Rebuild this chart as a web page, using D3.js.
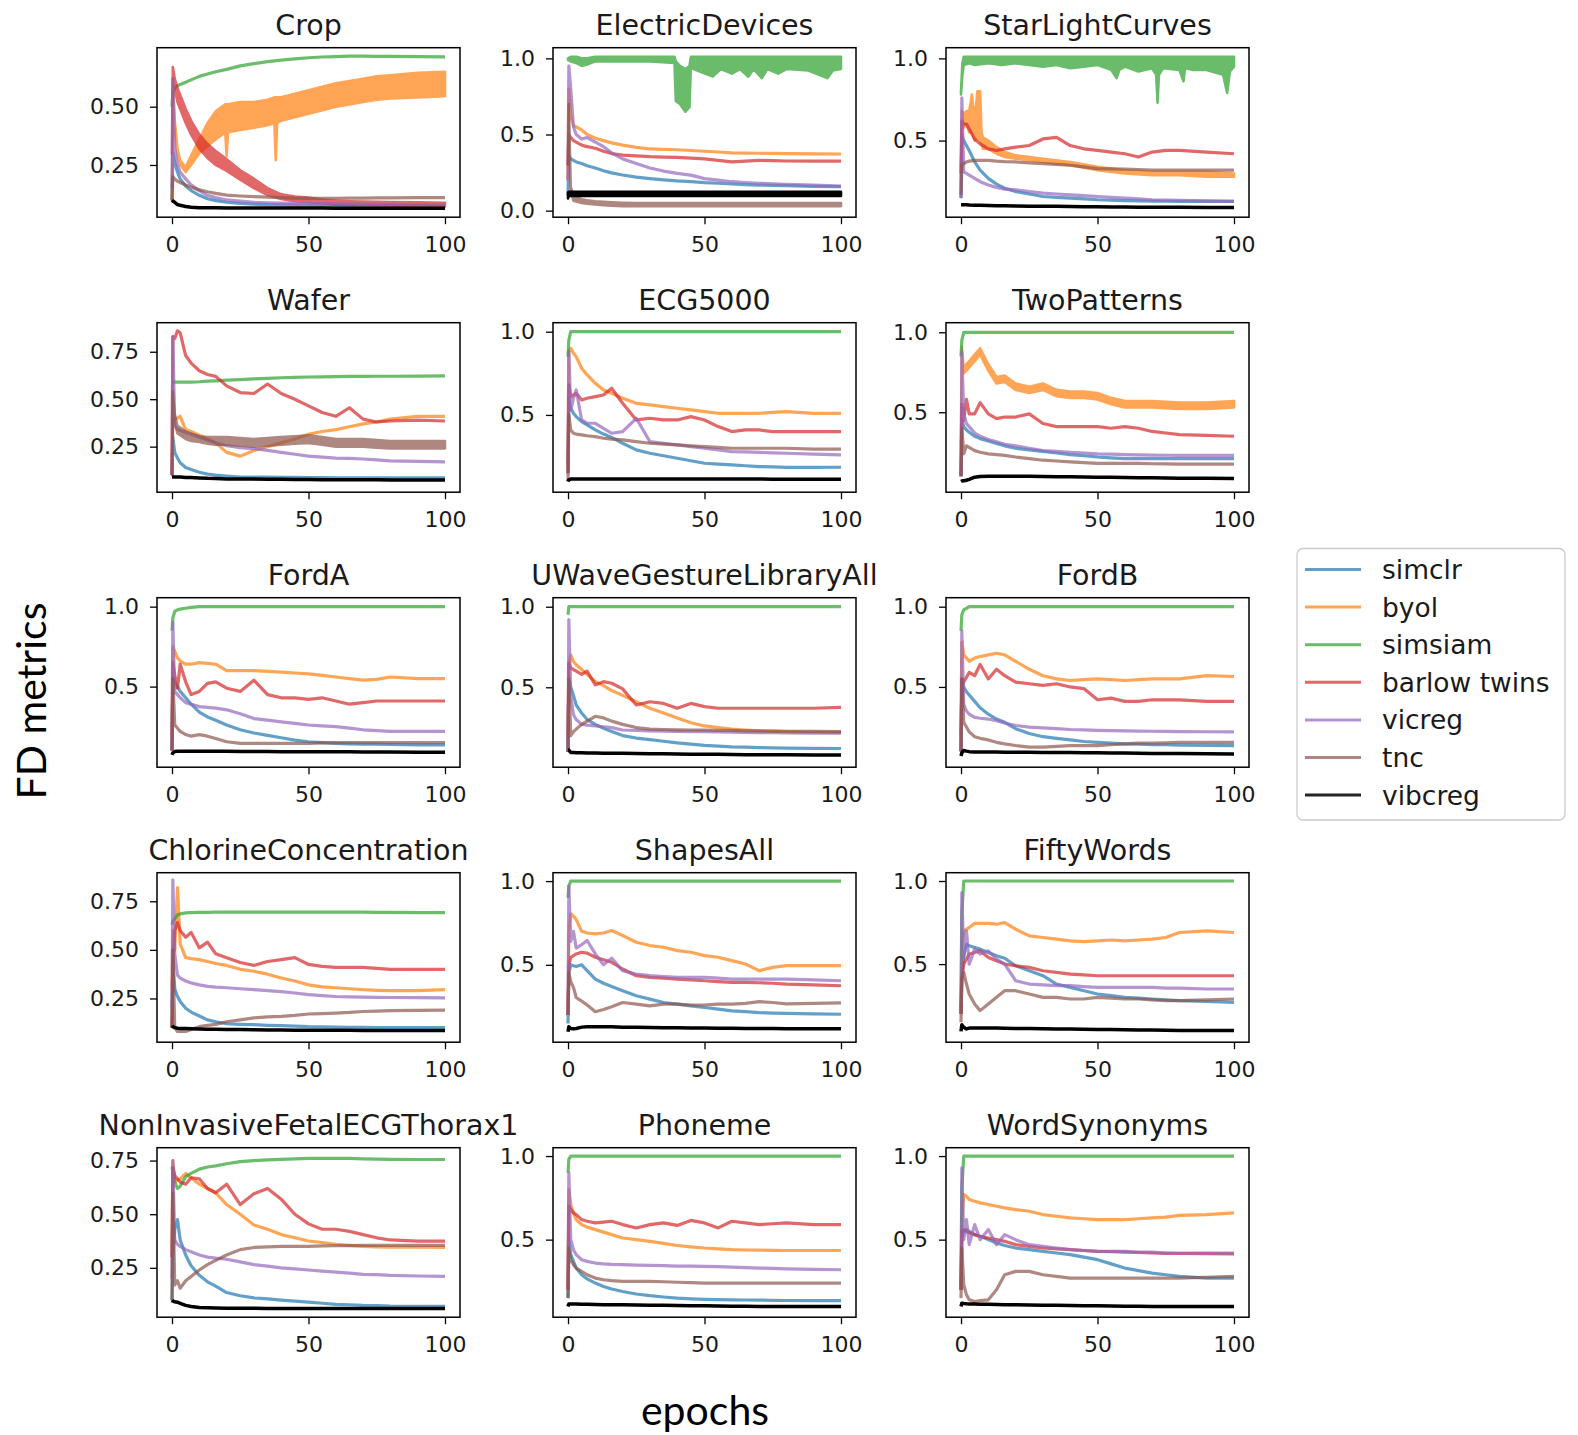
<!DOCTYPE html>
<html><head><meta charset="utf-8">
<script src="https://cdn.jsdelivr.net/npm/d3@7"></script>
<style>body{margin:0;background:#fff}svg{display:block}</style>
</head><body>
<script>
// ---------- data ----------
const methods = ["simclr","byol","simsiam","barlow twins","vicreg","tnc","vibcreg"];
const colors  = ["#1f77b4","#ff7f0e","#2ca02c","#d62728","#9467bd","#8c564b","#000000"];
const epochs  = [0,0.3,1,2,3,5,7,10,13,16,20,25,30,35,40,45,50,55,60,65,70,75,80,90,100];
const xTicks  = [0,50,100];
const datasets = ["Crop","ElectricDevices","StarLightCurves","Wafer","ECG5000","TwoPatterns","FordA",
  "UWaveGestureLibraryAll","FordB","ChlorineConcentration","ShapesAll","FiftyWords",
  "NonInvasiveFetalECGThorax1","Phoneme","WordSynonyms"];
const yDomains = [[0.026,0.753],[-0.043,1.07],[0.034,1.065],[0.01,0.903],[0.036,1.054],[0.0,1.06],
  [-0.004,1.056],[0.004,1.056],[0.0,1.056],[0.025,0.897],[0.038,1.05],[0.03,1.05],[0.02,0.81],[0.036,1.05],[0.036,1.05]];
const yTickSets = [[0.25,0.5],[0,0.5,1.0],[0.5,1.0],[0.25,0.5,0.75],[0.5,1.0],[0.5,1.0],[0.5,1.0],[0.5,1.0],[0.5,1.0],
  [0.25,0.5,0.75],[0.5,1.0],[0.5,1.0],[0.25,0.5,0.75],[0.5,1.0],[0.5,1.0]];
const yTickFormats = [".2f",".1f",".1f",".2f",".1f",".1f",".1f",".1f",".1f",".2f",".1f",".1f",".2f",".1f",".1f"];

// series values on `epochs` (order: simclr, byol, simsiam, barlow twins, vicreg, tnc, vibcreg); null = drawn as band
const cropV = [
 [0.10,0.30,0.26,0.22,0.19,0.16,0.14,0.12,0.105,0.097,0.09,0.085,0.082,0.08,0.079,0.078,0.078,0.077,0.077,0.076,0.076,0.076,0.076,0.075,0.075],
 null,
 [0.50,0.56,0.58,0.59,0.595,0.605,0.615,0.63,0.64,0.65,0.66,0.675,0.685,0.693,0.70,0.705,0.71,0.713,0.715,0.717,0.717,0.716,0.716,0.715,0.714],
 null,
 [0.15,0.62,0.32,0.25,0.22,0.19,0.165,0.14,0.12,0.11,0.10,0.095,0.09,0.088,0.086,0.085,0.085,0.084,0.083,0.083,0.082,0.082,0.081,0.08,0.08],
 [0.10,0.20,0.19,0.18,0.175,0.164,0.155,0.143,0.135,0.128,0.121,0.117,0.114,0.112,0.11,0.108,0.107,0.107,0.107,0.108,0.108,0.109,0.109,0.11,0.11],
 [0.10,0.095,0.09,0.08,0.077,0.072,0.069,0.067,0.066,0.066,0.065,0.065,0.065,0.065,0.065,0.065,0.065,0.065,0.064,0.064,0.064,0.064,0.064,0.064,0.064]];
const cropB = [
 {m:1, epochs:[0,0.3,1,2,3,5,7,10,13,16,19.5,20,20.5,25,30,35,37.5,38,38.5,40,45,50,55,60,65,70,75,80,90,100],
  lo:[0.1,0.58,0.4,0.3,0.25,0.22,0.25,0.30,0.33,0.36,0.39,0.29,0.39,0.40,0.41,0.42,0.43,0.27,0.43,0.44,0.455,0.47,0.485,0.50,0.51,0.52,0.53,0.535,0.54,0.545],
  hi:[0.1,0.62,0.44,0.32,0.27,0.24,0.29,0.36,0.43,0.48,0.51,0.51,0.51,0.52,0.52,0.53,0.54,0.54,0.54,0.54,0.555,0.57,0.585,0.60,0.61,0.62,0.63,0.635,0.645,0.65]},
 {m:3,
  lo:[0.30,0.65,0.58,0.52,0.49,0.43,0.38,0.32,0.28,0.25,0.225,0.187,0.151,0.121,0.104,0.095,0.09,0.086,0.08,0.078,0.077,0.076,0.075,0.074,0.072],
  hi:[0.30,0.67,0.62,0.58,0.55,0.49,0.44,0.38,0.34,0.31,0.275,0.227,0.191,0.151,0.124,0.115,0.11,0.102,0.096,0.094,0.093,0.092,0.091,0.09,0.088]}];

const electricV = [
 [0.10,0.36,0.34,0.33,0.32,0.31,0.295,0.28,0.262,0.248,0.234,0.22,0.21,0.202,0.195,0.19,0.184,0.18,0.175,0.171,0.168,0.166,0.164,0.16,0.158],
 [0.20,0.80,0.62,0.56,0.55,0.53,0.50,0.475,0.46,0.445,0.43,0.415,0.405,0.402,0.40,0.395,0.39,0.385,0.38,0.378,0.377,0.376,0.375,0.373,0.372],
 null,
 [0.30,0.50,0.48,0.46,0.45,0.43,0.42,0.41,0.39,0.375,0.365,0.36,0.355,0.352,0.35,0.345,0.34,0.33,0.32,0.325,0.33,0.328,0.326,0.325,0.325],
 [0.20,0.95,0.80,0.55,0.50,0.47,0.48,0.45,0.42,0.38,0.34,0.31,0.28,0.26,0.245,0.233,0.21,0.20,0.19,0.185,0.18,0.176,0.173,0.167,0.162],
 null, null];
const electricB = [
 {m:2, epochs:[0,1,3,5,7,10,20,30,39,39.5,41,43,44.5,45,46,53,56,60,63,66,68,71,73,77,80,88,95,97,100],
  lo:[0.99,0.98,0.97,0.95,0.96,0.98,0.98,0.98,0.97,0.72,0.70,0.65,0.68,0.95,0.93,0.88,0.93,0.90,0.93,0.88,0.93,0.87,0.93,0.90,0.93,0.92,0.87,0.92,0.93],
  hi:[1.0,1.01,1.01,1.0,1.0,1.01,1.01,1.01,1.01,0.98,0.95,0.93,0.95,1.01,1.01,1.01,1.01,1.01,1.01,1.01,1.01,1.01,1.01,1.01,1.01,1.01,1.01,1.01,1.01]},
 {m:5,
  lo:[0.30,0.70,0.13,0.065,0.06,0.05,0.045,0.04,0.036,0.033,0.03,0.03,0.03,0.03,0.03,0.03,0.03,0.03,0.03,0.03,0.03,0.03,0.03,0.03,0.03],
  hi:[0.30,0.70,0.16,0.095,0.09,0.075,0.068,0.062,0.058,0.055,0.052,0.05,0.05,0.05,0.05,0.05,0.05,0.05,0.05,0.05,0.05,0.05,0.05,0.05,0.05]},
 {m:6,
  lo:[0.08,0.097,0.097,0.097,0.097,0.097,0.097,0.097,0.097,0.097,0.097,0.097,0.097,0.097,0.097,0.097,0.097,0.097,0.097,0.097,0.097,0.097,0.097,0.097,0.097],
  hi:[0.12,0.123,0.123,0.123,0.123,0.123,0.123,0.123,0.123,0.123,0.123,0.123,0.123,0.123,0.123,0.123,0.123,0.123,0.123,0.123,0.123,0.123,0.123,0.123,0.123]}];

const starV = [
 [0.15,0.53,0.50,0.47,0.44,0.37,0.32,0.27,0.235,0.21,0.19,0.175,0.16,0.155,0.15,0.145,0.14,0.137,0.135,0.133,0.132,0.131,0.13,0.13,0.13],
 null, null,
 [0.3,0.62,0.60,0.60,0.57,0.51,0.48,0.45,0.44,0.45,0.46,0.47,0.51,0.52,0.47,0.45,0.44,0.43,0.42,0.40,0.43,0.44,0.44,0.43,0.42],
 [0.15,0.76,0.31,0.30,0.29,0.27,0.25,0.23,0.215,0.205,0.20,0.19,0.18,0.175,0.17,0.165,0.16,0.155,0.15,0.145,0.14,0.138,0.136,0.133,0.13],
 [0.17,0.35,0.36,0.37,0.375,0.38,0.38,0.38,0.375,0.372,0.37,0.365,0.36,0.355,0.35,0.34,0.33,0.328,0.326,0.324,0.32,0.32,0.32,0.32,0.32],
 [0.11,0.11,0.11,0.11,0.108,0.107,0.106,0.105,0.104,0.103,0.102,0.101,0.10,0.10,0.099,0.098,0.097,0.096,0.096,0.095,0.095,0.094,0.094,0.093,0.093]];
const starB = [
 {m:1, epochs:[0,0.3,1,2,3,4,5,6,7,7.5,8,10,13,16,20,25,30,40,50,60,70,80,90,100],
  lo:[0.3,0.6,0.58,0.6,0.55,0.55,0.5,0.52,0.5,0.48,0.45,0.45,0.42,0.40,0.39,0.38,0.37,0.35,0.32,0.30,0.29,0.29,0.28,0.28],
  hi:[0.3,0.68,0.66,0.68,0.68,0.78,0.62,0.80,0.80,0.55,0.52,0.50,0.46,0.43,0.41,0.40,0.39,0.37,0.34,0.32,0.31,0.31,0.31,0.30]},
 {m:2, epochs:[0,0.5,1,3,5,10,15,20,25,30,35,40,45,50,55,57,58,60,65,70,71.5,72,72.5,74,80,81.5,82,82.5,85,90,96,97.5,98.5,100],
  lo:[0.78,0.9,0.96,0.97,0.96,0.97,0.96,0.97,0.96,0.95,0.96,0.94,0.95,0.96,0.93,0.88,0.93,0.95,0.92,0.94,0.9,0.73,0.9,0.94,0.93,0.86,0.93,0.94,0.93,0.93,0.9,0.79,0.92,0.95],
  hi:[0.8,0.97,1.01,1.01,1.01,1.01,1.01,1.01,1.01,1.01,1.01,1.01,1.01,1.01,1.01,1.01,1.01,1.01,1.01,1.01,1.01,1.01,1.01,1.01,1.01,1.01,1.01,1.01,1.01,1.01,1.01,1.01,1.01,1.01]}];

const waferV = [
 [0.10,0.30,0.22,0.19,0.165,0.14,0.13,0.115,0.105,0.10,0.095,0.09,0.09,0.09,0.088,0.088,0.087,0.087,0.086,0.086,0.086,0.085,0.085,0.085,0.085],
 [0.10,0.40,0.395,0.40,0.41,0.34,0.33,0.31,0.29,0.27,0.22,0.20,0.23,0.25,0.27,0.29,0.315,0.33,0.34,0.355,0.37,0.38,0.395,0.41,0.41],
 [0.59,0.59,0.59,0.59,0.59,0.59,0.59,0.592,0.595,0.597,0.60,0.603,0.607,0.61,0.613,0.615,0.617,0.618,0.619,0.62,0.62,0.621,0.621,0.622,0.623],
 [0.10,0.83,0.82,0.86,0.85,0.73,0.69,0.65,0.63,0.62,0.57,0.535,0.53,0.58,0.53,0.50,0.465,0.43,0.41,0.455,0.395,0.38,0.385,0.39,0.385],
 [0.10,0.83,0.36,0.34,0.335,0.325,0.315,0.30,0.285,0.27,0.255,0.245,0.24,0.23,0.22,0.21,0.20,0.195,0.19,0.188,0.185,0.18,0.175,0.172,0.17],
 null,
 [0.09,0.09,0.09,0.09,0.09,0.088,0.087,0.085,0.083,0.082,0.08,0.08,0.079,0.078,0.078,0.077,0.077,0.076,0.076,0.075,0.075,0.075,0.074,0.074,0.074]];
const waferB = [
 {m:5,
  lo:[0.10,0.54,0.38,0.32,0.31,0.29,0.28,0.275,0.265,0.26,0.26,0.255,0.25,0.255,0.26,0.265,0.27,0.26,0.25,0.25,0.25,0.245,0.24,0.24,0.24],
  hi:[0.10,0.54,0.42,0.36,0.35,0.33,0.32,0.305,0.30,0.30,0.30,0.295,0.29,0.295,0.30,0.305,0.31,0.30,0.29,0.29,0.29,0.285,0.28,0.28,0.28]}];

const ecgV = [
 [0.15,0.60,0.54,0.51,0.49,0.46,0.44,0.41,0.385,0.365,0.33,0.29,0.27,0.255,0.24,0.225,0.21,0.205,0.20,0.195,0.19,0.188,0.185,0.185,0.186],
 [0.2,0.88,0.90,0.87,0.85,0.78,0.74,0.69,0.65,0.63,0.60,0.57,0.56,0.55,0.54,0.53,0.52,0.51,0.51,0.51,0.51,0.515,0.52,0.51,0.51],
 [0.85,0.95,1.0,1.0,1.0,1.0,1.0,1.0,1.0,1.0,1.0,1.0,1.0,1.0,1.0,1.0,1.0,1.0,1.0,1.0,1.0,1.0,1.0,1.0,1.0],
 [0.15,0.68,0.61,0.62,0.63,0.59,0.60,0.61,0.62,0.66,0.57,0.47,0.48,0.47,0.47,0.49,0.47,0.43,0.40,0.41,0.41,0.40,0.40,0.40,0.40],
 [0.2,0.88,0.53,0.60,0.65,0.47,0.45,0.45,0.42,0.39,0.40,0.48,0.34,0.33,0.32,0.31,0.30,0.29,0.28,0.278,0.275,0.272,0.27,0.265,0.26],
 [0.10,0.50,0.41,0.39,0.385,0.38,0.375,0.37,0.36,0.355,0.35,0.34,0.33,0.325,0.32,0.315,0.31,0.305,0.30,0.30,0.30,0.30,0.30,0.295,0.295],
 [0.10,0.11,0.115,0.115,0.115,0.115,0.115,0.115,0.115,0.115,0.115,0.115,0.115,0.115,0.115,0.115,0.115,0.115,0.115,0.115,0.115,0.114,0.114,0.114,0.114]];
const ecgB = [];

const twoV = [
 [0.1,0.45,0.41,0.39,0.375,0.35,0.335,0.32,0.305,0.29,0.275,0.265,0.255,0.245,0.235,0.228,0.22,0.215,0.21,0.21,0.21,0.21,0.21,0.21,0.21],
 null,
 [0.85,0.95,1.0,1.0,1.0,1.0,1.0,1.0,1.0,1.0,1.0,1.0,1.0,1.0,1.0,1.0,1.0,1.0,1.0,1.0,1.0,1.0,1.0,1.0,1.0],
 [0.1,0.55,0.45,0.58,0.49,0.49,0.56,0.49,0.46,0.47,0.47,0.49,0.43,0.41,0.41,0.41,0.41,0.40,0.41,0.40,0.38,0.37,0.36,0.355,0.35],
 [0.1,0.88,0.49,0.43,0.41,0.37,0.35,0.33,0.315,0.30,0.29,0.275,0.26,0.255,0.25,0.245,0.24,0.238,0.235,0.233,0.232,0.231,0.23,0.23,0.23],
 [0.1,0.40,0.24,0.29,0.28,0.26,0.25,0.24,0.235,0.23,0.22,0.21,0.20,0.195,0.19,0.185,0.18,0.18,0.18,0.18,0.178,0.177,0.176,0.175,0.175],
 [0.067,0.07,0.072,0.075,0.08,0.094,0.098,0.10,0.10,0.10,0.10,0.10,0.098,0.097,0.096,0.095,0.094,0.093,0.092,0.091,0.09,0.089,0.088,0.087,0.085]];
const twoB = [
 {m:1,
  lo:[0.3,0.89,0.745,0.76,0.78,0.82,0.86,0.76,0.68,0.69,0.64,0.62,0.64,0.60,0.59,0.59,0.58,0.55,0.53,0.53,0.53,0.525,0.52,0.52,0.53],
  hi:[0.3,0.91,0.775,0.80,0.82,0.86,0.90,0.80,0.72,0.73,0.68,0.66,0.68,0.64,0.63,0.63,0.62,0.59,0.57,0.57,0.57,0.565,0.56,0.56,0.57]}];

const fordAV = [
 [0.1,0.55,0.53,0.50,0.47,0.43,0.39,0.34,0.31,0.29,0.26,0.23,0.21,0.195,0.18,0.165,0.155,0.15,0.145,0.142,0.14,0.14,0.138,0.136,0.135],
 [0.2,0.75,0.72,0.68,0.66,0.64,0.64,0.65,0.645,0.64,0.60,0.60,0.60,0.595,0.59,0.585,0.58,0.57,0.56,0.55,0.54,0.545,0.56,0.55,0.55],
 [0.85,0.93,0.97,0.98,0.985,0.99,0.995,1.0,1.0,1.0,1.0,1.0,1.0,1.0,1.0,1.0,1.0,1.0,1.0,1.0,1.0,1.0,1.0,1.0,1.0],
 [0.1,0.65,0.57,0.49,0.64,0.53,0.45,0.47,0.52,0.53,0.49,0.47,0.54,0.45,0.43,0.43,0.42,0.43,0.41,0.39,0.40,0.41,0.41,0.41,0.41],
 [0.1,0.90,0.47,0.45,0.43,0.40,0.39,0.375,0.37,0.365,0.355,0.33,0.30,0.29,0.28,0.27,0.26,0.255,0.25,0.24,0.23,0.225,0.22,0.22,0.22],
 [0.1,0.55,0.26,0.24,0.22,0.20,0.19,0.20,0.19,0.175,0.155,0.145,0.145,0.145,0.145,0.145,0.145,0.148,0.15,0.15,0.15,0.15,0.15,0.15,0.15],
 [0.073,0.085,0.094,0.095,0.095,0.095,0.095,0.095,0.095,0.095,0.095,0.094,0.094,0.094,0.093,0.093,0.093,0.092,0.092,0.092,0.091,0.091,0.091,0.09,0.09]];
const fordAB = [];

const uwaveV = [
 [0.1,0.55,0.50,0.45,0.39,0.34,0.30,0.27,0.245,0.225,0.20,0.185,0.175,0.165,0.155,0.147,0.14,0.135,0.13,0.128,0.126,0.124,0.122,0.121,0.12],
 [0.2,0.65,0.70,0.66,0.64,0.61,0.58,0.535,0.51,0.48,0.45,0.41,0.37,0.34,0.31,0.28,0.26,0.25,0.24,0.235,0.23,0.228,0.225,0.222,0.22],
 [0.95,1.0,1.0,1.0,1.0,1.0,1.0,1.0,1.0,1.0,1.0,1.0,1.0,1.0,1.0,1.0,1.0,1.0,1.0,1.0,1.0,1.0,1.0,1.0,1.0],
 [0.1,0.65,0.62,0.61,0.60,0.58,0.60,0.515,0.535,0.525,0.49,0.39,0.41,0.40,0.37,0.40,0.38,0.37,0.37,0.37,0.37,0.37,0.37,0.37,0.375],
 [0.1,0.92,0.45,0.33,0.30,0.27,0.265,0.26,0.255,0.25,0.235,0.232,0.23,0.228,0.226,0.225,0.225,0.223,0.221,0.22,0.219,0.218,0.217,0.216,0.215],
 [0.1,0.55,0.20,0.225,0.24,0.27,0.29,0.32,0.31,0.29,0.27,0.25,0.24,0.238,0.236,0.235,0.235,0.233,0.232,0.23,0.229,0.228,0.227,0.226,0.225],
 [0.11,0.11,0.095,0.095,0.094,0.093,0.092,0.092,0.091,0.09,0.09,0.089,0.088,0.087,0.086,0.085,0.085,0.084,0.083,0.082,0.082,0.081,0.081,0.08,0.08]];
const uwaveB = [];

const fordBV = [
 [0.1,0.55,0.50,0.47,0.45,0.41,0.37,0.33,0.30,0.28,0.24,0.21,0.19,0.18,0.17,0.16,0.155,0.15,0.145,0.143,0.14,0.14,0.138,0.136,0.135],
 [0.2,0.78,0.70,0.68,0.66,0.68,0.69,0.70,0.71,0.70,0.66,0.61,0.57,0.55,0.54,0.545,0.55,0.545,0.54,0.545,0.55,0.55,0.55,0.57,0.565],
 [0.85,0.95,0.98,0.99,1.0,1.0,1.0,1.0,1.0,1.0,1.0,1.0,1.0,1.0,1.0,1.0,1.0,1.0,1.0,1.0,1.0,1.0,1.0,1.0,1.0],
 [0.1,0.55,0.53,0.56,0.59,0.57,0.64,0.55,0.61,0.57,0.53,0.52,0.51,0.52,0.50,0.49,0.42,0.43,0.41,0.41,0.42,0.42,0.42,0.41,0.41],
 [0.1,0.85,0.39,0.35,0.33,0.31,0.305,0.30,0.29,0.275,0.26,0.25,0.245,0.24,0.235,0.232,0.23,0.228,0.226,0.225,0.224,0.223,0.222,0.221,0.22],
 [0.1,0.55,0.28,0.25,0.22,0.19,0.18,0.17,0.155,0.145,0.135,0.125,0.125,0.13,0.135,0.135,0.135,0.14,0.145,0.15,0.15,0.152,0.155,0.155,0.155],
 [0.07,0.09,0.104,0.1,0.097,0.095,0.094,0.094,0.094,0.093,0.093,0.093,0.092,0.092,0.091,0.09,0.09,0.089,0.088,0.087,0.086,0.085,0.085,0.084,0.083]];
const fordBB = [];

const chlorineV = [
 [0.1,0.45,0.30,0.26,0.235,0.20,0.18,0.16,0.14,0.13,0.12,0.117,0.115,0.112,0.11,0.108,0.105,0.104,0.103,0.102,0.101,0.1,0.1,0.1,0.1],
 [0.3,0.6,0.5,0.82,0.53,0.46,0.455,0.45,0.44,0.43,0.42,0.40,0.39,0.375,0.355,0.34,0.32,0.31,0.305,0.30,0.295,0.292,0.29,0.29,0.295],
 [0.63,0.645,0.66,0.68,0.685,0.69,0.692,0.693,0.693,0.694,0.694,0.694,0.694,0.694,0.694,0.694,0.694,0.694,0.694,0.694,0.694,0.693,0.693,0.692,0.692],
 [0.1,0.4,0.6,0.64,0.6,0.565,0.59,0.51,0.54,0.48,0.46,0.435,0.42,0.44,0.45,0.46,0.425,0.415,0.41,0.41,0.41,0.405,0.40,0.40,0.40],
 [0.2,0.86,0.48,0.37,0.355,0.34,0.33,0.32,0.312,0.308,0.305,0.30,0.295,0.29,0.285,0.278,0.27,0.265,0.26,0.258,0.257,0.256,0.255,0.254,0.253],
 [0.1,0.5,0.1,0.08,0.08,0.08,0.09,0.105,0.112,0.117,0.13,0.14,0.15,0.155,0.158,0.163,0.17,0.172,0.175,0.178,0.183,0.185,0.187,0.189,0.19],
 [0.11,0.105,0.1,0.097,0.096,0.095,0.094,0.093,0.092,0.091,0.09,0.09,0.089,0.088,0.088,0.087,0.087,0.086,0.086,0.086,0.085,0.085,0.085,0.085,0.085]];
const chlorineB = [];

const shapesV = [
 [0.15,0.45,0.50,0.495,0.49,0.50,0.465,0.415,0.39,0.37,0.345,0.315,0.295,0.275,0.265,0.255,0.245,0.235,0.225,0.22,0.215,0.212,0.21,0.207,0.205],
 [0.2,0.7,0.805,0.79,0.77,0.70,0.69,0.685,0.69,0.705,0.675,0.635,0.615,0.605,0.585,0.575,0.555,0.545,0.525,0.505,0.465,0.485,0.495,0.495,0.495],
 [0.9,0.97,1.0,1.0,1.0,1.0,1.0,1.0,1.0,1.0,1.0,1.0,1.0,1.0,1.0,1.0,1.0,1.0,1.0,1.0,1.0,1.0,1.0,1.0,1.0],
 [0.2,0.5,0.545,0.555,0.565,0.575,0.57,0.545,0.53,0.515,0.475,0.435,0.425,0.42,0.415,0.41,0.405,0.40,0.395,0.395,0.393,0.39,0.385,0.38,0.375],
 [0.2,0.97,0.64,0.70,0.60,0.62,0.645,0.565,0.50,0.54,0.465,0.445,0.435,0.43,0.425,0.425,0.425,0.42,0.415,0.415,0.415,0.415,0.415,0.41,0.405],
 [0.2,0.45,0.40,0.365,0.305,0.283,0.26,0.22,0.233,0.25,0.275,0.265,0.255,0.265,0.265,0.26,0.26,0.265,0.265,0.27,0.28,0.275,0.267,0.27,0.273],
 [0.1,0.13,0.12,0.118,0.12,0.128,0.13,0.13,0.13,0.13,0.128,0.127,0.126,0.125,0.124,0.123,0.123,0.122,0.121,0.12,0.12,0.12,0.119,0.119,0.118]];
const shapesB = [];

const fiftyV = [
 [0.2,0.45,0.55,0.62,0.61,0.60,0.59,0.57,0.55,0.535,0.49,0.46,0.43,0.38,0.36,0.34,0.32,0.31,0.30,0.295,0.29,0.285,0.28,0.275,0.27],
 [0.2,0.6,0.70,0.71,0.72,0.745,0.745,0.745,0.74,0.75,0.71,0.67,0.66,0.65,0.64,0.635,0.64,0.645,0.64,0.645,0.65,0.66,0.69,0.70,0.69],
 [0.2,0.8,1.0,1.0,1.0,1.0,1.0,1.0,1.0,1.0,1.0,1.0,1.0,1.0,1.0,1.0,1.0,1.0,1.0,1.0,1.0,1.0,1.0,1.0,1.0],
 [0.2,0.4,0.5,0.53,0.56,0.57,0.58,0.54,0.52,0.50,0.49,0.48,0.46,0.45,0.44,0.435,0.43,0.43,0.43,0.43,0.43,0.43,0.43,0.43,0.43],
 [0.2,0.93,0.54,0.70,0.50,0.59,0.56,0.58,0.53,0.50,0.40,0.38,0.375,0.37,0.37,0.365,0.36,0.36,0.36,0.36,0.36,0.355,0.355,0.35,0.35],
 [0.15,0.42,0.45,0.38,0.32,0.26,0.22,0.26,0.30,0.34,0.34,0.32,0.30,0.30,0.29,0.29,0.30,0.295,0.29,0.29,0.285,0.28,0.28,0.285,0.29],
 [0.095,0.135,0.12,0.11,0.115,0.115,0.115,0.115,0.115,0.114,0.113,0.112,0.111,0.11,0.109,0.108,0.107,0.106,0.105,0.104,0.103,0.102,0.101,0.1,0.1]];
const fiftyB = [];

const fetalV = [
 [0.1,0.3,0.43,0.475,0.38,0.31,0.26,0.215,0.185,0.165,0.135,0.12,0.11,0.105,0.1,0.095,0.09,0.085,0.08,0.078,0.075,0.074,0.072,0.071,0.07],
 [0.3,0.75,0.65,0.66,0.665,0.69,0.67,0.64,0.62,0.60,0.545,0.50,0.45,0.43,0.405,0.39,0.375,0.368,0.36,0.355,0.35,0.348,0.347,0.346,0.345],
 [0.72,0.70,0.65,0.62,0.63,0.675,0.69,0.71,0.72,0.725,0.735,0.745,0.75,0.753,0.756,0.758,0.76,0.76,0.76,0.76,0.758,0.757,0.756,0.755,0.755],
 [0.3,0.72,0.68,0.665,0.65,0.64,0.67,0.665,0.62,0.60,0.64,0.545,0.595,0.62,0.57,0.50,0.455,0.43,0.43,0.42,0.405,0.39,0.38,0.375,0.375],
 [0.2,0.75,0.38,0.36,0.35,0.335,0.325,0.31,0.30,0.295,0.29,0.278,0.265,0.258,0.25,0.245,0.24,0.235,0.23,0.225,0.22,0.218,0.215,0.212,0.21],
 [0.1,0.6,0.17,0.19,0.155,0.19,0.21,0.24,0.265,0.285,0.31,0.335,0.345,0.348,0.35,0.35,0.35,0.352,0.353,0.354,0.355,0.355,0.355,0.355,0.355],
 [0.1,0.095,0.092,0.09,0.085,0.075,0.07,0.065,0.064,0.063,0.062,0.062,0.062,0.061,0.061,0.061,0.06,0.06,0.06,0.06,0.06,0.06,0.06,0.06,0.06]];
const fetalB = [];

const phonemeV = [
 [0.15,0.5,0.41,0.37,0.33,0.29,0.265,0.24,0.22,0.205,0.19,0.175,0.165,0.157,0.15,0.146,0.143,0.141,0.14,0.139,0.138,0.137,0.136,0.135,0.135],
 [0.2,0.8,0.71,0.66,0.62,0.59,0.575,0.56,0.545,0.53,0.51,0.50,0.49,0.478,0.465,0.457,0.45,0.445,0.44,0.438,0.437,0.436,0.435,0.435,0.435],
 [0.9,0.98,1.0,1.0,1.0,1.0,1.0,1.0,1.0,1.0,1.0,1.0,1.0,1.0,1.0,1.0,1.0,1.0,1.0,1.0,1.0,1.0,1.0,1.0,1.0],
 [0.2,0.7,0.68,0.66,0.65,0.62,0.61,0.60,0.605,0.61,0.59,0.57,0.59,0.60,0.585,0.615,0.60,0.57,0.61,0.60,0.59,0.595,0.60,0.59,0.59],
 [0.2,0.9,0.5,0.44,0.41,0.38,0.37,0.36,0.355,0.352,0.35,0.348,0.346,0.344,0.342,0.341,0.34,0.338,0.335,0.332,0.33,0.328,0.325,0.322,0.32],
 [0.15,0.45,0.38,0.35,0.33,0.31,0.29,0.27,0.26,0.255,0.25,0.25,0.25,0.248,0.245,0.243,0.24,0.24,0.24,0.24,0.24,0.24,0.24,0.24,0.24],
 [0.1,0.115,0.115,0.115,0.115,0.114,0.113,0.112,0.111,0.11,0.11,0.109,0.108,0.107,0.106,0.105,0.104,0.103,0.102,0.101,0.1,0.1,0.1,0.1,0.1]];
const phonemeB = [];

const wordsynV = [
 [0.2,0.5,0.55,0.56,0.55,0.53,0.52,0.50,0.48,0.465,0.45,0.44,0.43,0.42,0.41,0.395,0.38,0.355,0.33,0.315,0.30,0.29,0.28,0.27,0.27],
 [0.2,0.6,0.77,0.76,0.74,0.73,0.72,0.71,0.70,0.69,0.68,0.67,0.65,0.64,0.63,0.625,0.62,0.62,0.62,0.625,0.63,0.635,0.645,0.65,0.66],
 [0.2,0.8,1.0,1.0,1.0,1.0,1.0,1.0,1.0,1.0,1.0,1.0,1.0,1.0,1.0,1.0,1.0,1.0,1.0,1.0,1.0,1.0,1.0,1.0,1.0],
 [0.2,0.55,0.56,0.55,0.54,0.53,0.52,0.51,0.50,0.49,0.47,0.46,0.45,0.445,0.44,0.435,0.43,0.428,0.425,0.423,0.42,0.418,0.417,0.416,0.415],
 [0.2,0.93,0.50,0.62,0.47,0.59,0.50,0.56,0.47,0.53,0.50,0.47,0.46,0.45,0.44,0.435,0.43,0.43,0.43,0.425,0.425,0.42,0.42,0.42,0.42],
 [0.15,0.45,0.23,0.17,0.14,0.13,0.135,0.14,0.20,0.29,0.31,0.31,0.29,0.28,0.27,0.27,0.27,0.27,0.27,0.27,0.27,0.27,0.27,0.275,0.28],
 [0.1,0.12,0.118,0.116,0.115,0.115,0.114,0.113,0.112,0.111,0.11,0.109,0.108,0.107,0.106,0.105,0.104,0.103,0.102,0.101,0.1,0.1,0.1,0.1,0.1]];
const wordsynB = [];

const valueTables = [cropV,electricV,starV,waferV,ecgV,twoV,fordAV,uwaveV,fordBV,chlorineV,shapesV,fiftyV,fetalV,phonemeV,wordsynV];
const bandTables  = [cropB,electricB,starB,waferB,ecgB,twoB,fordAB,uwaveB,fordBB,chlorineB,shapesB,fiftyB,fetalB,phonemeB,wordsynB];

// ---------- layout ----------
const W = 1578, H = 1435;
const colLeft = [157, 553, 946], rowTop = [47.7, 322.7, 597.7, 872.7, 1147.7];
const pw = 303, ph = 169.5;
const tickFont = "'DejaVu Sans', sans-serif";

const svg = d3.select("body").append("svg").attr("width", W).attr("height", H)
  .style("background", "#fff");
const defs = svg.append("defs");

datasets.forEach((name, i) => {
  const c = i % 3, r = Math.floor(i / 3);
  const x0 = colLeft[c], y0 = rowTop[r];
  const x = d3.scaleLinear().domain([-5.5, 105.5]).range([x0, x0 + pw]);
  const y = d3.scaleLinear().domain(yDomains[i]).range([y0 + ph, y0]);
  const g = svg.append("g");

  defs.append("clipPath").attr("id", "clip" + i)
    .append("rect").attr("x", x0).attr("y", y0).attr("width", pw).attr("height", ph);
  const plot = g.append("g").attr("clip-path", `url(#clip${i})`);

  const vals = valueTables[i], bands = bandTables[i];
  methods.forEach((m, k) => {
    const sg = plot.append("g").attr("opacity", k === 6 ? 1 : 0.7);
    const band = bands.find(b => b.m === k);
    if (band) {
      const ep = band.epochs || epochs;
      const pts = ep.map((e, j) => [e, band.lo[j], band.hi[j]]);
      sg.append("path")
        .attr("d", d3.area().x(d => x(d[0])).y0(d => y(d[1])).y1(d => y(d[2]))(pts))
        .attr("fill", colors[k]).attr("stroke", colors[k])
        .attr("stroke-width", 2.6).attr("stroke-linejoin", "round");
    }
    if (vals[k]) {
      sg.append("path")
        .attr("d", d3.line().x((d, j) => x(epochs[j])).y(d => y(d))(vals[k]))
        .attr("fill", "none").attr("stroke", colors[k])
        .attr("stroke-width", k === 6 ? 3.5 : 3.2).attr("stroke-linejoin", "round");
    }
  });

  // axes
  const xa = g.append("g").attr("transform", `translate(0,${y0 + ph})`)
    .call(d3.axisBottom(x).tickValues(xTicks).tickSize(7).tickPadding(12).tickFormat(d3.format("d")));
  const ya = g.append("g").attr("transform", `translate(${x0},0)`)
    .call(d3.axisLeft(y).tickValues(yTickSets[i]).tickSize(7).tickPadding(11).tickFormat(d3.format(yTickFormats[i])));
  [xa, ya].forEach(a => {
    a.select(".domain").remove();
    a.selectAll(".tick line").attr("stroke", "#000").attr("stroke-width", 1.3);
    a.selectAll(".tick text").attr("fill", "#1a1a1a").style("font-family", tickFont).style("font-size", "22px");
  });

  // frame
  g.append("rect").attr("x", x0).attr("y", y0).attr("width", pw).attr("height", ph)
    .attr("fill", "none").attr("stroke", "#000").attr("stroke-width", 1.5);

  // title
  g.append("text").attr("x", x0 + pw / 2).attr("y", y0 - 13)
    .attr("text-anchor", "middle").attr("fill", "#1a1a1a")
    .style("font-family", tickFont).style("font-size", "28.5px").text(name);
});

// ---------- legend ----------
const lg = svg.append("g");
lg.append("rect").attr("x", 1297).attr("y", 548.5).attr("width", 268).attr("height", 271.5)
  .attr("rx", 6).attr("fill", "#fff").attr("stroke", "#cccccc").attr("stroke-width", 1.3);
methods.forEach((m, k) => {
  const yy = 569.5 + k * 37.6;
  lg.append("line").attr("x1", 1305).attr("x2", 1361).attr("y1", yy).attr("y2", yy)
    .attr("stroke", colors[k]).attr("stroke-width", 3).attr("opacity", k === 6 ? 0.85 : 0.7);
  lg.append("text").attr("x", 1382).attr("y", yy + 9.5).attr("fill", "#1a1a1a")
    .style("font-family", tickFont).style("font-size", "26.5px").text(m);
});

// ---------- axis labels ----------
svg.append("text").attr("transform", "translate(46,701) rotate(-90)")
  .attr("text-anchor", "middle").attr("fill", "#000")
  .style("font-family", "Lato, 'Open Sans', sans-serif").style("font-size", "41px").text("FD metrics");
svg.append("text").attr("x", 705).attr("y", 1425)
  .attr("text-anchor", "middle").attr("fill", "#000")
  .style("font-family", "Lato, 'Open Sans', sans-serif").style("font-size", "41px").text("epochs");
</script>
</body></html>
